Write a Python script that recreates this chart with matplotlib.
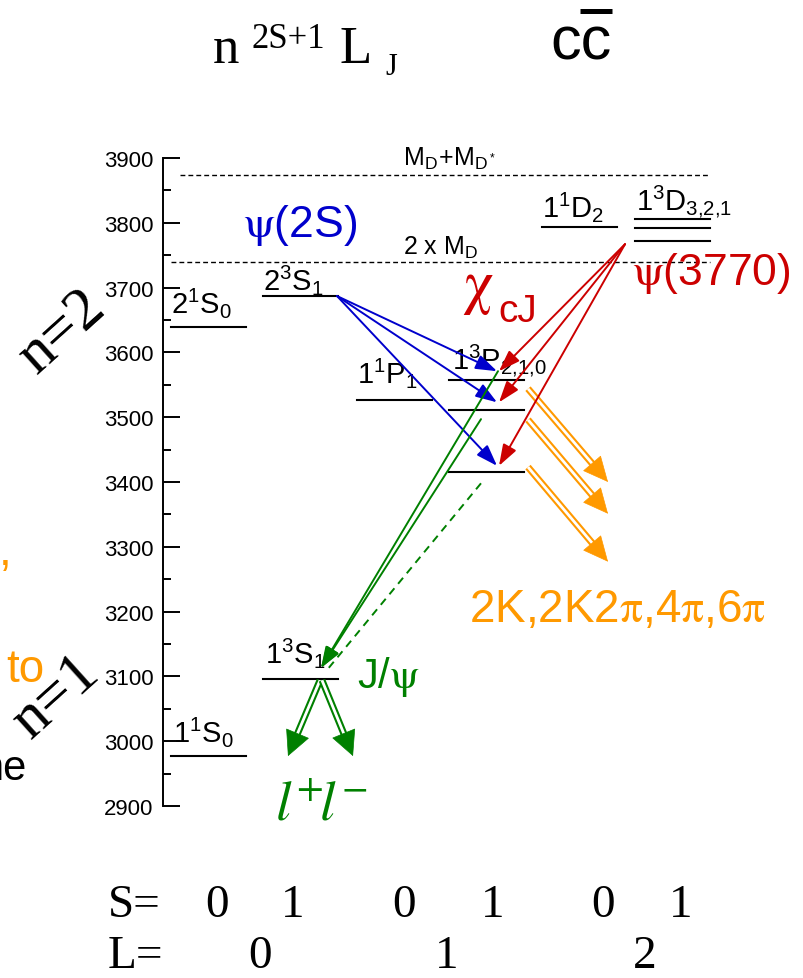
import numpy as np
import matplotlib.pyplot as plt

plt.rcParams['font.family'] = ['Liberation Sans', 'DejaVu Sans']

BLUE = '#0000cc'
RED = '#cc0000'
GREEN = '#008000'
ORANGE = '#ff9900'

# charmonium states (MeV) and the (S, L) column each one sits in
level_mass = [2977, 3639, 3096, 3687, 3526, 3558, 3511, 3415, 3794, 3806, 3792, 3772]
level_col = [0, 0, 1, 1, 2, 3, 3, 3, 4, 5, 5, 5]
col_x0 = [171, 263, 357, 449, 542, 635]
col_w = 75

# open-charm thresholds
thr_mass = [3873, 3739]
thr_labels = [r'$\mathregular{M_D\!+\!M_{D^*}}$', r'2 x $\mathregular{M_D}$']

# radiative transitions: psi(2S) and psi(3770) -> chi_cJ
psi2s_mass = 3687
psi3770_mass = 3767
chi_tip_mass = [3571, 3523, 3425]

# chi_cJ -> gamma J/psi (last one dashed)
chi_jpsi_start = [3571, 3497, 3398]
jpsi_tip_mass = 3113

# chi_cJ -> light hadrons
had_start = [3544, 3496, 3423]
had_tip = [3400, 3351, 3277]

# J/psi -> l+ l-
ll_tip_mass = 2977

spin_row = ['0', '1', '0', '1', '0', '1']
orbit_row = ['0', '1', '2']


def yp(py):
    # pixel row -> MeV on the energy axis
    return 3900 - (py - 159) / 0.648


fig = plt.figure(figsize=(8.04, 9.79), dpi=100)
ax = fig.add_axes([0, 0, 1, 1])
ax.set_xlim(0, 804)
ax.set_ylim(yp(979), yp(0))

for s in ['top', 'right', 'bottom']:
    ax.spines[s].set_visible(False)
ax.spines['left'].set_position(('data', 163))
ax.spines['left'].set_bounds(2900, 3900)
ax.spines['left'].set_linewidth(1.4)
ax.set_xticks([])
ax.set_yticks(np.arange(2900, 3901, 100))
ax.set_yticks(np.arange(2950, 3900, 100), minor=True)
ax.tick_params(axis='y', which='major', direction='in', length=12, width=1.4,
               pad=7, labelsize=16)
ax.tick_params(axis='y', which='minor', direction='in', length=6, width=1.4)

# levels
for m, c in zip(level_mass, level_col):
    ax.plot([col_x0[c], col_x0[c] + col_w], [m, m], color='black', lw=1.5)

# thresholds
ax.plot([180, 708], [thr_mass[0]] * 2, color='black', lw=1.0, dashes=(3.5, 2.2))
ax.plot([171, 710], [thr_mass[1]] * 2, color='black', lw=1.0, dashes=(3.5, 2.2))
ax.text(403, yp(166), thr_labels[0], fontsize=18)
ax.text(403, yp(255), thr_labels[1], fontsize=18)

# level labels
lab = dict(fontsize=21, va='baseline')
ax.text(173, yp(742), r'$\mathregular{1^1S_0}$', **lab)
ax.text(171, yp(313), r'$\mathregular{2^1S_0}$', **lab)
ax.text(265, yp(663), r'$\mathregular{1^3S_1}$', **lab)
ax.text(263, yp(290), r'$\mathregular{2^3S_1}$', **lab)
ax.text(357, yp(383), r'$\mathregular{1^1P_1}$', **lab)
ax.text(452, yp(370), r'$\mathregular{1^3P_{2{,}1{,}0}}$', **lab)
ax.text(542, yp(217), r'$\mathregular{1^1D_2}$', **lab)
ax.text(636, yp(211), r'$\mathregular{1^3D_{3{,}2{,}1}}$', **lab)


def arrow(start, tip, color, hl=1.3, hw=0.45, lw=1.4):
    ax.annotate('', xy=tip, xytext=start,
                arrowprops=dict(arrowstyle=f'-|>,head_length={hl},head_width={hw}',
                                color=color, lw=lw, shrinkA=0, shrinkB=0))


def hollow_arrow(start, tip, color, hl=17, hw=8):
    p0 = ax.transData.transform(start)
    p1 = ax.transData.transform(tip)
    u = (p1 - p0) / np.hypot(*(p1 - p0))
    base = ax.transData.inverted().transform(p1 - u * hl * 100 / 72)
    mid = ax.transData.inverted().transform(p1 - u * hl * 0.8 * 100 / 72)
    xs, ys = [start[0], mid[0]], [start[1], mid[1]]
    ax.plot(xs, ys, color=color, lw=5, solid_capstyle='butt')
    ax.plot(xs, ys, color='white', lw=2, solid_capstyle='butt')
    ax.annotate('', xy=tip, xytext=tuple(base),
                arrowprops=dict(arrowstyle=f'-|>,head_length={hl / 10},head_width={hw / 10}',
                                color=color, lw=0.5, shrinkA=0, shrinkB=0))


# psi(2S) -> gamma chi_cJ
for m in chi_tip_mass:
    arrow((337, psi2s_mass), (497, m), BLUE)
# psi(3770) -> gamma chi_cJ
for m in chi_tip_mass:
    arrow((625, psi3770_mass), (499, m), RED)

# chi_cJ -> gamma J/psi
arrow((498, chi_jpsi_start[0]), (321, jpsi_tip_mass), GREEN)
arrow((481, chi_jpsi_start[1]), (321, jpsi_tip_mass), GREEN)
ax.plot([481, 326], [chi_jpsi_start[2], jpsi_tip_mass - 5], color=GREEN, lw=1.4,
        dashes=(4, 3))

# chi_cJ -> hadrons
for m0, m1 in zip(had_start, had_tip):
    hollow_arrow((528, m0), (608, m1), ORANGE)

# J/psi -> l+ l-
hollow_arrow((320, 3094), (288, ll_tip_mass), GREEN, hl=17, hw=8.5)
hollow_arrow((322, 3094), (353, ll_tip_mass), GREEN, hl=17, hw=8.5)

# particle names
ax.text(243, yp(237), r'$\mathrm{\psi}$(2S)', color=BLUE, fontsize=32,
        math_fontfamily='stix')
ax.text(632, yp(285), r'$\mathrm{\psi}$(3770)', color=RED, fontsize=32,
        math_fontfamily='stix')
ax.text(462, yp(302), r'$\mathrm{\chi}$', color=RED, fontsize=44,
        math_fontfamily='stix')
ax.text(498, yp(322), 'cJ', color=RED, fontsize=28)
ax.text(357, yp(688), r'J/$\mathrm{\psi}$', color=GREEN, fontsize=30,
        math_fontfamily='stix')
ax.text(275, yp(820), r'$l^{+}\!l^{-}$', color=GREEN, fontsize=40,
        math_fontfamily='stix')
ax.text(469, yp(622), r'2K,2K2$\mathrm{\pi}$,4$\mathrm{\pi}$,6$\mathrm{\pi}$',
        color=ORANGE, fontsize=33, math_fontfamily='stix')

# spectroscopic notation header
serif = 'Liberation Serif'
ax.text(213, yp(63), 'n', family=serif, fontsize=38)
ax.text(252, yp(48), '2S+1', family=serif, fontsize=25)
ax.text(340, yp(63), 'L', family=serif, fontsize=38)
ax.text(385, yp(75), 'J', family=serif, fontsize=22)
ax.text(550, yp(60), 'cc', fontsize=44)
ax.plot([580, 612], [yp(12.5)] * 2, color='black', lw=3.6, solid_capstyle='butt')

# radial quantum number
ax.text(62, yp(332), 'n=2', family=serif, fontsize=44, rotation=42,
        ha='center', va='center', rotation_mode='anchor')
ax.text(56, yp(697), 'n=1', family=serif, fontsize=44, rotation=42,
        ha='center', va='center', rotation_mode='anchor')

# text running in from the left
ax.text(12, yp(565), ',', color=ORANGE, fontsize=33, ha='right')
ax.text(44, yp(682), 'to', color=ORANGE, fontsize=33, ha='right')
ax.text(27, yp(780), 'ne', color='black', fontsize=30, ha='right')

# S and L rows
ax.text(108, yp(917), 'S=', family=serif, fontsize=34)
for x, s in zip([217, 293, 404, 493, 603, 681], spin_row):
    ax.text(x, yp(917), s, family=serif, fontsize=34, ha='center')
ax.text(108, yp(968), 'L=', family=serif, fontsize=34)
for x, l in zip([260, 447, 645], orbit_row):
    ax.text(x, yp(968), l, family=serif, fontsize=34, ha='center')

fig.savefig('out.png', dpi=100)
